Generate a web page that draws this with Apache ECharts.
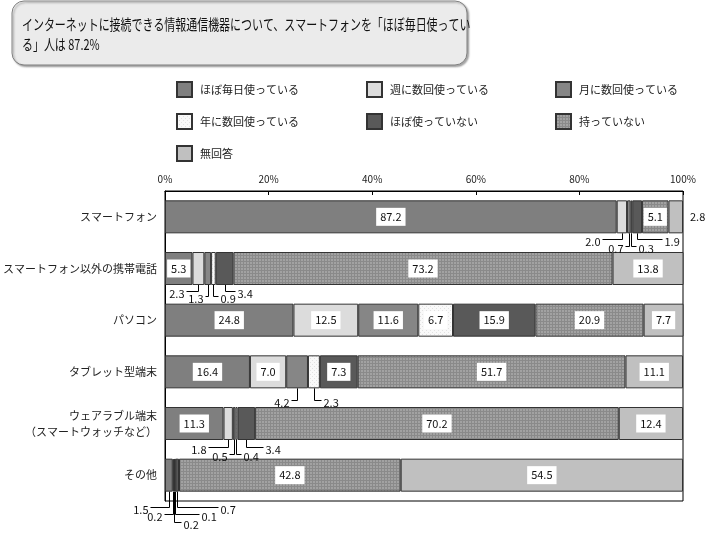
<!DOCTYPE html>
<html>
<head>
<meta charset="utf-8">
<script src="https://cdn.jsdelivr.net/npm/echarts@6/dist/echarts.min.js"></script>
<style>
html, body { margin: 0; padding: 0; background: #fff; }
#main { width: 710px; height: 540px; }
</style>
</head>
<body>
<div id="main"></div>
<script>
// 項目・系列
var categories = ['スマートフォン', 'スマートフォン以外の携帯電話', 'パソコン', 'タブレット型端末',
  'ウェアラブル端末\n（スマートウォッチなど）', 'その他'];
var seriesNames = ['ほぼ毎日使っている', '週に数回使っている', '月に数回使っている',
  '年に数回使っている', 'ほぼ使っていない', '持っていない', '無回答'];

// 値 (%)
var daily   = [87.2,  5.3, 24.8, 16.4, 11.3,  1.5];
var weekly  = [ 2.0,  2.3, 12.5,  7.0,  1.8,  0.2];
var monthly = [ 0.7,  1.3, 11.6,  4.2,  0.5,  0.2];
var yearly  = [ 0.3,  0.9,  6.7,  2.3,  0.4,  0.1];
var rarely  = [ 1.9,  3.4, 15.9,  7.3,  3.4,  0.7];
var notOwn  = [ 5.1, 73.2, 20.9, 51.7, 70.2, 42.8];
var noAns   = [ 2.8, 13.8,  7.7, 11.1, 12.4, 54.5];

var titleLines = ['インターネットに接続できる情報通信機器について、スマートフォンを「ほぼ毎日使ってい',
  'る」人は 87.2%'];

var valueSets = [daily, weekly, monthly, yearly, rarely, notOwn, noAns];

// 引き出し線の配置 [行, 系列, 横ずれ, 縦ずれ]
var callouts = [
  [0, 1, -20, 6], [0, 2, -4, 13], [0, 3, 5, 13], [0, 4, 25, 6],
  [1, 1, -12, 6], [1, 2, -3, 11], [1, 3, 5, 11], [1, 4, 10, 6],
  [3, 2, -6, 12], [3, 3, 7, 12],
  [4, 1, -20, 7], [4, 2, -5, 14], [4, 3, 5, 14], [4, 4, 17, 7],
  [5, 0, -19, 15], [5, 1, -9, 22], [5, 2, 7, 30], [5, 3, 24, 22], [5, 4, 41, 15]
];
var outsideRight = [[0, 6]];

var FONT = "'Noto Sans CJK JP', sans-serif";
var BAR_W = 33;

function makePattern(w, h, bg, fg, cells) {
  var c = document.createElement('canvas');
  c.width = w; c.height = h;
  var ctx = c.getContext('2d');
  ctx.fillStyle = bg;
  ctx.fillRect(0, 0, w, h);
  ctx.fillStyle = fg;
  cells.forEach(function (p) { ctx.fillRect(p[0], p[1], 1, 1); });
  return { image: c, repeat: 'repeat' };
}

var dots = makePattern(4, 4, '#f9f9f9', '#e2e2e2', [[0, 0], [2, 2]]);
var checks = makePattern(3, 3, '#a2a2a2', '#8a8a8a', [[0, 0], [1, 0], [2, 0], [0, 1], [0, 2]]);

var colors = ['#7f7f7f', '#dcdcdc', '#868686', dots, '#595959', checks, '#c0c0c0'];

function has(list, r, s) {
  return list.some(function (c) { return c[0] === r && c[1] === s; });
}

var chart = echarts.init(document.getElementById('main'));

var series = valueSets.map(function (vals, s) {
  return {
    name: seriesNames[s],
    type: 'bar',
    stack: 'all',
    barWidth: BAR_W,
    itemStyle: { color: colors[s], borderColor: '#333', borderWidth: 1 },
    label: {
      show: true,
      position: 'inside',
      formatter: function (p) { return p.value.toFixed(1); },
      color: '#111',
      fontSize: 11,
      fontFamily: FONT,
      backgroundColor: '#fff',
      padding: [4, 4, 3, 4]
    },
    data: vals.map(function (v, r) {
      if (has(callouts, r, s)) return { value: v, label: { show: false } };
      if (has(outsideRight, r, s)) {
        return { value: v, label: { position: 'right', distance: 7, backgroundColor: 'transparent', padding: 0 } };
      }
      return v;
    })
  };
});

series.push({
  type: 'custom',
  name: 'callout',
  silent: true,
  z: 5,
  encode: { x: 0, y: 1 },
  data: callouts.map(function (c) {
    var start = 0;
    for (var k = 0; k < c[1]; k++) start += valueSets[k][c[0]];
    var v = valueSets[c[1]][c[0]];
    return [start + v / 2, c[0], c[2], c[3], v];
  }),
  renderItem: function (params, api) {
    var p = api.coord([api.value(0), api.value(1)]);
    var x = Math.round(p[0]) + 0.5;
    var y0 = p[1] + BAR_W / 2;
    var dx = api.value(2), dy = api.value(3);
    var y1 = Math.round(y0 + dy) + 0.5;
    var x2 = x + dx;
    return {
      type: 'group',
      children: [
        { type: 'polyline', shape: { points: [[x, y0], [x, y1], [x2, y1]] },
          style: { stroke: '#000', lineWidth: 1, fill: null } },
        { type: 'text', x: x2 + (dx < 0 ? -2 : 2), y: y1 + 2,
          style: { text: api.value(4).toFixed(1), align: dx < 0 ? 'right' : 'left',
            verticalAlign: 'middle', fontSize: 11, fontFamily: FONT, fill: '#111' } }
      ]
    };
  }
});

var legendBase = {
  orient: 'vertical', itemWidth: 15, itemHeight: 15, itemGap: 15, padding: 0,
  icon: 'rect', selectedMode: false, top: 81,
  textStyle: { fontSize: 11, color: '#222', fontFamily: FONT, padding: [0, 0, 0, 3] }
};

var option = {
  animation: false,
  textStyle: { fontFamily: FONT },
  graphic: [
    { type: 'rect', shape: { x: 12, y: 1, width: 455, height: 64, r: 12 },
      style: { fill: '#ebebeb', stroke: '#808080', lineWidth: 1,
        shadowBlur: 2, shadowOffsetX: 1.5, shadowOffsetY: 1.5, shadowColor: 'rgba(0,0,0,0.35)' } },
    { type: 'text', x: 22, y: 24, scaleX: 0.73,
      style: { text: titleLines[0], fontSize: 15, fontFamily: FONT, fill: '#111', verticalAlign: 'middle' } },
    { type: 'text', x: 22, y: 44, scaleX: 0.73,
      style: { text: titleLines[1], fontSize: 15, fontFamily: FONT, fill: '#111', verticalAlign: 'middle' } }
  ],
  legend: [
    Object.assign({ left: 176, data: [seriesNames[0], seriesNames[3], seriesNames[6]] }, legendBase),
    Object.assign({ left: 366, data: [seriesNames[1], seriesNames[4]] }, legendBase),
    Object.assign({ left: 555, data: [seriesNames[2], seriesNames[5]] }, legendBase)
  ],
  grid: {
    left: 165, right: 27, top: 191, bottom: 39,
    show: true, borderColor: '#000', borderWidth: 1,
    outerBoundsMode: 'none'
  },
  xAxis: {
    type: 'value', position: 'top', min: 0, max: 100, interval: 20,
    axisLine: { show: true, lineStyle: { color: '#000' } },
    axisTick: { show: true, inside: true, length: 4, lineStyle: { color: '#000' } },
    axisLabel: { formatter: '{value}%', fontSize: 10, color: '#222', margin: 7, fontFamily: FONT },
    splitLine: { show: false }
  },
  yAxis: {
    type: 'category', inverse: true, data: categories,
    axisLine: { show: true, lineStyle: { color: '#000' } },
    axisTick: { show: false },
    axisLabel: { fontSize: 11, color: '#222', margin: 8, fontFamily: FONT, lineHeight: 16 }
  },
  series: series
};

chart.setOption(option);
</script>
</body>
</html>
